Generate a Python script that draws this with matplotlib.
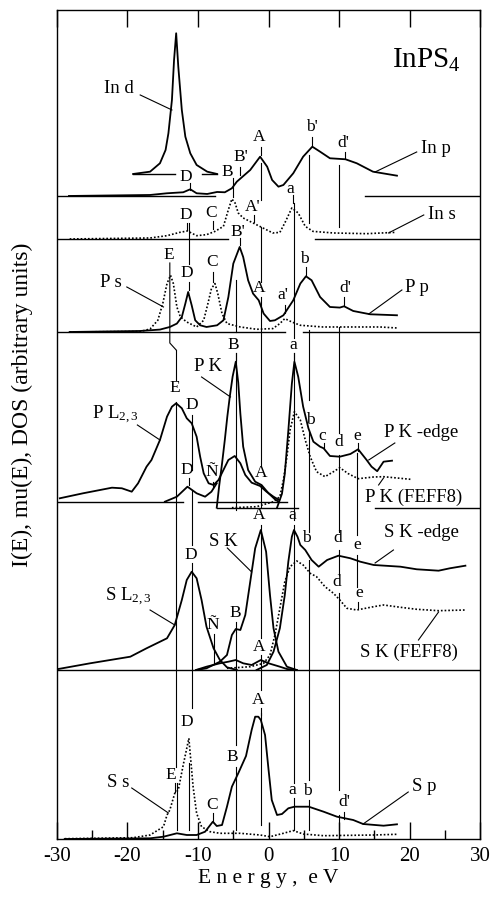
import matplotlib
matplotlib.use('Agg')
import matplotlib.pyplot as plt
from matplotlib.ticker import MultipleLocator

plt.rcParams['font.family'] = ['Liberation Serif', 'DejaVu Serif']
plt.rcParams['mathtext.fontset'] = 'custom'
plt.rcParams['mathtext.rm'] = 'Liberation Serif'
plt.rcParams['mathtext.it'] = 'Liberation Serif:italic'
plt.rcParams['mathtext.bf'] = 'Liberation Serif:bold'

# ---------------- data (energy in eV, intensity in arbitrary units above curve baseline)
in_d_E = [-19.2, -16.8, -15.4, -14.6, -14.2, -13.7, -13.4, -13.1, -12.8, -12.3, -11.8, -11.1, -10.2, -8.7, -7.3]
in_d_I = [0, 2.3, 10.7, 24, 40.7, 74, 114, 140.7, 107.3, 64, 37.3, 20.7, 9, 2.3, 0]

in_p_E = [-28.3, -16.8, -14.4, -12.1, -11.1, -10.2, -8.7, -7.3, -6.2, -5.2, -4.5, -2.6, -1.2, -0.2,
          0.5, 1.4, 2.1, 3.5, 4.9, 6.2, 7.3, 8.7, 10.9, 12.5, 14.8, 18.2]
in_p_I = [0, 1, 2.7, 3.7, 6.7, 2.7, 2, 4, 3.7, 7.7, 14.3, 26, 39.3, 29.3,
          16, 9.3, 11, 22.7, 39.3, 49.3, 44.3, 37.7, 36.7, 32.7, 24.3, 20.3]

in_s_E = [-28.2, -16.8, -14.4, -12.6, -11.5, -10.2, -8.8, -7.6, -6.4, -5.7, -5.2, -4.75, -4.3, -3.6,
          -2.2, -0.8, 0.6, 1.6, 2.3, 3.3, 4.2, 5.2, 6.3, 9.2, 13.9, 17.9]
in_s_I = [0, 1, 3.3, 6.6, 8, 3.3, 4.3, 7.6, 12.6, 29.3, 40, 36, 26, 21,
          16, 11, 6, 6.6, 16, 31, 26, 12.6, 7.6, 6, 5.3, 6.6]

p_s_E = [-28.2, -18.2, -16.8, -15.7, -15.0, -14.4, -13.9, -13.5, -13.0, -12.5, -11.6, -10.2, -9.2, -8.6,
         -8.1, -7.6, -7.2, -6.6, -5.9, -4.0, -1.7, 0.6, 1.6, 2.3, 3.3, 4.5, 7.7, 15.8, 18.2]
p_s_I = [0, 0.5, 3, 11.7, 28.4, 48.4, 56.7, 48.4, 25, 15, 10, 5, 11.7, 28.4,
         43.4, 48.4, 38.4, 18.4, 8.4, 5, 2.7, 3.4, 8.4, 13.4, 10, 6.7, 5, 5, 4]

p_p_E = [-28.2, -18.2, -15.4, -14.0, -13.0, -12.3, -11.8, -11.4, -10.9, -10.4, -9.7, -8.8, -7.3, -6.4,
         -5.7, -5.0, -4.1, -3.6, -2.9, -2.2, -1.4, -0.7, 0.2, 0.9, 2.1, 3.5, 4.5, 5.3, 6.1, 7.3,
         8.7, 10.1, 10.7, 12.0, 14.4, 18.2]
p_p_I = [0, 1, 2.4, 5, 8.4, 15, 28.4, 40, 26.7, 11.7, 6.7, 5, 6.7, 11.7,
         35, 68.4, 85, 75, 51.7, 38.4, 31.7, 18.4, 11, 11.7, 16.7, 31.7, 48.4, 55.7, 51.7, 35,
         25, 24.4, 25.7, 21, 17.7, 16.7]

p_l_E = [-29.6, -26.3, -22.2, -20.8, -19.4, -18.5, -17.3, -16.6, -15.4, -14.4, -13.7, -13.1, -12.3,
         -11.6, -10.9, -10.2, -9.7, -9.2, -8.5, -7.8, -7.1, -6.4, -5.7, -4.8, -4.0, -3.3, -2.4,
         -1.2, -0.3, 0.7, 1.5]
p_l_I = [3.4, 8.4, 14, 13.4, 10, 18.4, 35, 41.7, 61.7, 85, 95, 98.4, 93.4,
         83.4, 78.4, 65, 45, 28.4, 18.4, 16.7, 21.7, 31.7, 41.7, 45.7, 38.4, 26.7, 19,
         15.7, 10, 5, 1.7]

p_low_E = [-14.7, -13.0, -11.5, -10.2, -9.0, -8.1, -7.35]
p_low_I = [0, 5, 15, 8.4, 5, 10, 18.4]

p_k_E = [-7.35, -7.0, -6.6, -6.2, -5.85, -5.5, -5.1, -4.65, -4.3, -4.0, -3.6, -2.9, -1.9, -1.0, 0.0, 0.9, 1.4]
p_k_I = [0, 22, 44, 68, 91, 111, 131, 146, 125, 94, 61, 37.7, 26, 22.7, 14.4, 8.4, 6]

p_kedge_E = [1.2, 1.9, 2.3, 2.8, 3.3, 3.66, 4.2, 4.9, 5.65, 6.35, 7.3, 7.8, 8.7, 10.1, 11.6, 12.7,
             13.9, 14.6, 15.4, 16.3, 17.5]
p_kedge_I = [0, 14, 34, 77, 124, 146, 131, 101, 79.4, 66, 61, 59.4, 51.7, 51, 53.7, 58.4,
             47.7, 41, 36.5, 46, 47]

p_feff_E = [-5.2, -1.7, 0.7, 1.6, 2.1, 2.6, 3.05, 3.66, 4.5, 5.2, 5.9, 6.8, 8.0, 9.2, 10.1, 11.3,
            12.7, 14.9, 16.3, 20.1]
p_feff_I = [0, 1, 6, 11, 27.7, 51, 77.7, 96, 87.7, 67.7, 51, 36, 31, 36, 40, 34,
            29, 30.7, 31, 28.4]

s_l_E = [-29.8, -25.3, -19.6, -17.3, -14.4, -13.3, -12.3, -11.6, -10.9, -10.2, -9.5, -8.8, -7.8, -6.9, -5.9, -4.5]
s_l_I = [1, 6.7, 13.3, 21.7, 31.7, 45, 70, 90, 98.3, 91.7, 70, 43.3, 21.7, 10, 2.7, 0]

s_k_E = [-10.2, -8.8, -6.9, -5.9, -5.2, -4.65, -4.0, -3.3, -2.6, -1.9, -1.1, -0.35, 0.2, 0.7, 1.4, 2.6, 4.0]
s_k_I = [0, 1.7, 8.3, 15, 35, 41, 40, 55, 88.3, 121.7, 140, 118.3, 75, 41.7, 18.3, 3.3, 0]

s_kedge_E = [-1.7, -0.25, 0.7, 1.6, 2.3, 2.8, 3.3, 3.6, 4.1, 4.5, 5.2, 6.1, 7.1, 8.3, 9.9, 11.6,
             13.0, 14.9, 18.7, 21.0, 24.1, 25.7, 27.9]
s_kedge_I = [0, 5, 18.3, 41.7, 75, 108.3, 133.3, 140, 133.3, 125, 120, 110, 103.3, 110, 114.3, 111.7,
             108.3, 105, 103.3, 100.7, 99.3, 101.7, 104.3]

s_feff_E = [-5.9, -2.6, -0.7, 0.2, 0.9, 1.6, 2.3, 3.05, 4.0, 4.9, 5.9, 6.8, 8.0, 9.2, 10.1, 11.1,
            12.5, 14.9, 16.3, 18.7, 21.0, 24.1, 27.9]
s_feff_I = [1.7, 3.3, 6.7, 15, 35, 61.7, 88.3, 103.3, 109, 105, 96.7, 93.3, 83.3, 76.7, 70, 61.7,
            60, 63.3, 65, 62.7, 60.7, 59.3, 60]

s_low_E = [-10.3, -8.8, -6.9, -5.7, -4.65, -3.6, -2.4, -1.1, 0.0, 1.6, 2.6, 4.0]
s_low_I = [0, 3.3, 6.7, 8.3, 10, 6.7, 5, 10, 6.7, 3.3, 1, 0]

s_s_E = [-28.9, -19.2, -16.8, -14.9, -14.4, -14.0, -13.3, -12.8, -12.1, -11.3, -10.7, -10.2, -9.5,
         -8.3, -6.9, -4.0, -1.2, 0.2, 2.1, 3.5, 4.9, 7.8, 14.9, 18.2]
s_s_I = [0.3, 1.3, 4, 12.3, 24, 29, 45.7, 49, 74, 100.7, 52.3, 25.7, 12.3,
         7.3, 5.7, 5.7, 4, 2.3, 5.7, 8.4, 5, 3.3, 4, 4.7]

s_p_E = [-28.9, -16.8, -14.9, -13.0, -11.6, -10.2, -9.0, -7.9, -7.35, -6.6, -5.9, -5.2, -4.3, -3.2,
         -2.4, -1.9, -1.45, -1.1, -0.5, 0.0, 0.45, 1.2, 1.9, 2.8, 3.66, 5.7, 7.8, 9.7, 12.0, 13.4,
         16.3, 18.2]
s_p_I = [0, 0.7, 2.3, 5.7, 4, 4, 7.3, 17.3, 13, 14, 32.3, 52.3, 65.7, 83,
         109, 122.3, 122.3, 119, 104, 69, 39, 24, 25, 30.7, 32.3, 32.3, 27.3, 22.3, 19, 15,
         13.3, 14.7]

x_ticks = [-30, -20, -10, 0, 10, 20, 30]

# ---------------- layout (vertical offsets of each spectrum)
base = {'in_d': 665, 'in_p': 643, 'in_s': 600, 'p': 507, 'pl': 337.3, 'pk': 331.3, 's': 169, 'bot': 0}

fig = plt.figure(figsize=(4.91, 8.98), dpi=100)
ax = fig.add_axes([0.116, 0.0657, 0.862, 0.9232])
ax.set_xlim(-30, 30)
ax.set_ylim(0, 829)

SOLID = dict(color='black', lw=1.3, solid_joinstyle='round')
DOT = dict(color='black', lw=1.2, ls=(0, (1, 1.2)))

def curve(E, I, b, style):
    ax.plot(E, [b + v for v in I], **style)

curve(in_d_E, in_d_I, base['in_d'], SOLID)
curve(in_p_E, in_p_I, base['in_p'], SOLID)
curve(in_s_E, in_s_I, base['in_s'], DOT)
curve(p_s_E, p_s_I, base['p'], DOT)
curve(p_p_E, p_p_I, base['p'], SOLID)
curve(p_l_E, p_l_I, base['pl'], SOLID)
curve(p_low_E, p_low_I, base['pl'], SOLID)
curve(p_k_E, p_k_I, base['pk'], SOLID)
curve(p_kedge_E, p_kedge_I, base['pk'], SOLID)
curve(p_feff_E, p_feff_I, base['pk'], DOT)
curve(s_l_E, s_l_I, base['s'], SOLID)
curve(s_k_E, s_k_I, base['s'], SOLID)
curve(s_kedge_E, s_kedge_I, base['s'], SOLID)
curve(s_feff_E, s_feff_I, base['s'], DOT)
curve(s_low_E, s_low_I, base['s'], SOLID)
curve(s_s_E, s_s_I, base['bot'], DOT)
curve(s_p_E, s_p_I, base['bot'], SOLID)

# ---------------- separators / baselines
THIN = dict(color='black', lw=1.0)
seps = [(643, -30, -7.6), (643, 13.7, 30),
        (665, -19.2, -13.2), (665, -9.5, -7.3),
        (600, -30, -5.7), (600, 6.6, 30),
        (507, -30, 2.3), (507, 4.9, 30),
        (337.3, -30, -12.1), (337.3, -10.0, 2.6),
        (331.3, -7.35, 4.2), (331, 15.1, 30),
        (169, -30, 30)]
for y, x1, x2 in seps:
    ax.plot([x1, x2], [y, y], **THIN)

# ---------------- vertical guide lines
VL = dict(color='black', lw=0.8)
vsegs = [
    (-13.1, 459, 489), (-13.1, 72, 437), (-13.0, 9, 56),
    (-11.3, 575, 616), (-10.9, 131, 276), (-10.9, 294, 349), (-10.9, 369, 424), (-11.3, 9, 76),
    (-5.1, 642, 661), (-4.65, 507, 559), (-4.65, 329, 486), (-4.65, 94, 207), (-4.65, 9, 72),
    (-1.1, 639, 676), (-1.1, 557, 612), (-1.1, 374, 542), (-1.1, 332, 354), (-1.1, 201, 314),
    (-1.1, 149, 179), (-1.1, 14, 126),
    (3.65, 501, 636), (3.65, 319, 486), (3.65, 56, 314), (3.65, 9, 41),
    (5.7, 616, 684), (5.7, 439, 509), (5.7, 307, 407), (5.7, 59, 279), (5.7, 9, 39),
    (10.0, 612, 674), (10.0, 406, 512), (10.0, 307, 384), (10.0, 264, 289), (10.0, 49, 246), (10.0, 9, 24),
    (12.6, 304, 386), (12.6, 252, 284),
]
for x, y1, y2 in vsegs:
    ax.plot([x, x], [y1, y2], **VL)
# kinked E guide between P s and P L panels
ax.plot([-14.0, -14.0, -13.1], [576, 496, 489], **VL)

# short label ticks
lticks = [(-11.1, 649, 656), (-4.1, 664, 672), (-1.1, 684, 692), (6.2, 694, 702), (10.8, 681, 687),
          (3.4, 636, 644), (-11.5, 609, 616), (-7.9, 610, 618), (-2.05, 617, 624),
          (-11.3, 549, 557), (-7.9, 557, 567), (-4.1, 594, 601), (2.3, 526, 534), (5.3, 564, 572),
          (10.7, 534, 542), (-4.65, 479, 486), (3.65, 479, 486), (-11.3, 354, 361), (-7.9, 351, 357),
          (7.8, 391, 396), (12.7, 388, 396), (12.7, 231, 237), (-7.7, 176, 205), (-4.65, 207, 217),
          (-1.1, 177, 184), (-1.1, 124, 131), (-13.3, 47, 56), (-7.9, 17, 26), (10.7, 20, 27)]
for x, y1, y2 in lticks:
    ax.plot([x, x], [y1, y2], **VL)

# ---------------- feature labels
FS = 12.5
feat = [("D", -11.8, 662), ("B", -5.9, 667), ("B'", -4.0, 682), ("A", -1.3, 702), ("b'", 6.1, 712),
        ("d'", 10.6, 696), ("a", 3.05, 650),
        ("D", -11.8, 624), ("C", -8.1, 626), ("A'", -2.2, 632),
        ("E", -14.2, 584), ("D", -11.6, 566), ("C", -8.0, 577), ("B'", -4.3, 607), ("A", -1.35, 551),
        ("a'", 2.0, 544), ("b", 5.0, 580), ("d'", 10.9, 551),
        ("B", -5.0, 494), ("a", 3.5, 494), ("E", -13.3, 451), ("D", -10.9, 434), ("D", -11.6, 369),
        ("Ñ", -8.05, 367), ("A", -1.1, 366), ("b", 5.9, 419), ("c", 7.55, 403), ("d", 10.0, 397),
        ("e", 12.5, 403), ("A", -1.35, 324), ("a", 3.3, 324),
        ("D", -11.1, 284), ("b", 5.4, 301), ("d", 9.8, 301), ("e", 12.5, 294), ("d", 9.7, 257),
        ("e", 12.8, 246), ("Ñ", -7.9, 214), ("B", -4.75, 226), ("A", -1.35, 192),
        ("D", -11.6, 117), ("A", -1.45, 139), ("E", -13.9, 64), ("B", -5.15, 82), ("C", -8.05, 34),
        ("a", 3.3, 49), ("b", 5.55, 48), ("d'", 10.7, 37)]
for t, x, y in feat:
    ax.text(x, y, t, fontsize=FS, ha='center', va='center')

# ---------------- curve names with leader lines
NF = 13.5
names = [("In d", -21.2, 750, 'center'), ("In p", 23.7, 690, 'center'), ("In s", 24.6, 624, 'center'),
         ("P s", -22.4, 556, 'center'), ("P p", 21.1, 551, 'center'),
         ("P K", -8.65, 472, 'center'), ("P L$_{2,3}$", -25.1, 424, 'left'),
         ("P K -edge", 16.3, 406, 'left'), ("P K (FEFF8)", 13.7, 342, 'left'),
         ("S K", -6.4, 297, 'center'), ("S L$_{2,3}$", -23.2, 242, 'left'),
         ("S K -edge", 16.3, 306, 'left'), ("S K (FEFF8)", 13.0, 187, 'left'),
         ("S s", -21.3, 56, 'center'), ("S p", 22.0, 52, 'center')]
for t, x, y, ha in names:
    ax.text(x, y, t, fontsize=NF, ha=ha, va='center')

leaders = [(-18.2, 744, -13.7, 729), (21.0, 687, 15.1, 667), (22.0, 624, 17.0, 606),
           (-20.1, 552, -14.9, 532), (18.9, 549, 14.2, 525), (-9.5, 462, -5.4, 442),
           (-18.6, 414, -15.4, 399), (17.9, 396, 14.2, 379), (15.6, 354, 16.3, 361),
           (-5.85, 291, -2.4, 267), (-16.8, 229, -13.3, 214), (17.7, 289, 15.1, 276),
           (21.25, 199, 24.1, 227), (-19.4, 51, -14.2, 26), (19.8, 47, 13.4, 15)]
for x1, y1, x2, y2 in leaders:
    ax.plot([x1, x2], [y1, y2], color='black', lw=0.8)

ax.text(27.2, 779, "InPS$_4$", fontsize=21, ha='right', va='center')

# ---------------- axes styling
ax.set_xticks(x_ticks)
ax.set_xticklabels([str(v) for v in x_ticks], fontsize=15)
ax.xaxis.set_minor_locator(MultipleLocator(5))
ax.set_yticks([])
ax.tick_params(axis='x', which='major', direction='in', length=12, width=1.0, top=True, pad=6)
ax.tick_params(axis='x', which='minor', direction='in', length=6.5, width=1.0, top=False)
for s in ax.spines.values():
    s.set_linewidth(1.0)
ax.set_xlabel("E n e r g y ,  e V", fontsize=15.5, labelpad=2)
ax.set_ylabel("I(E), mu(E), DOS (arbitrary units)", fontsize=17)
ax.yaxis.set_label_coords(-0.056, 0.524)

fig.savefig('out.png', dpi=100)
